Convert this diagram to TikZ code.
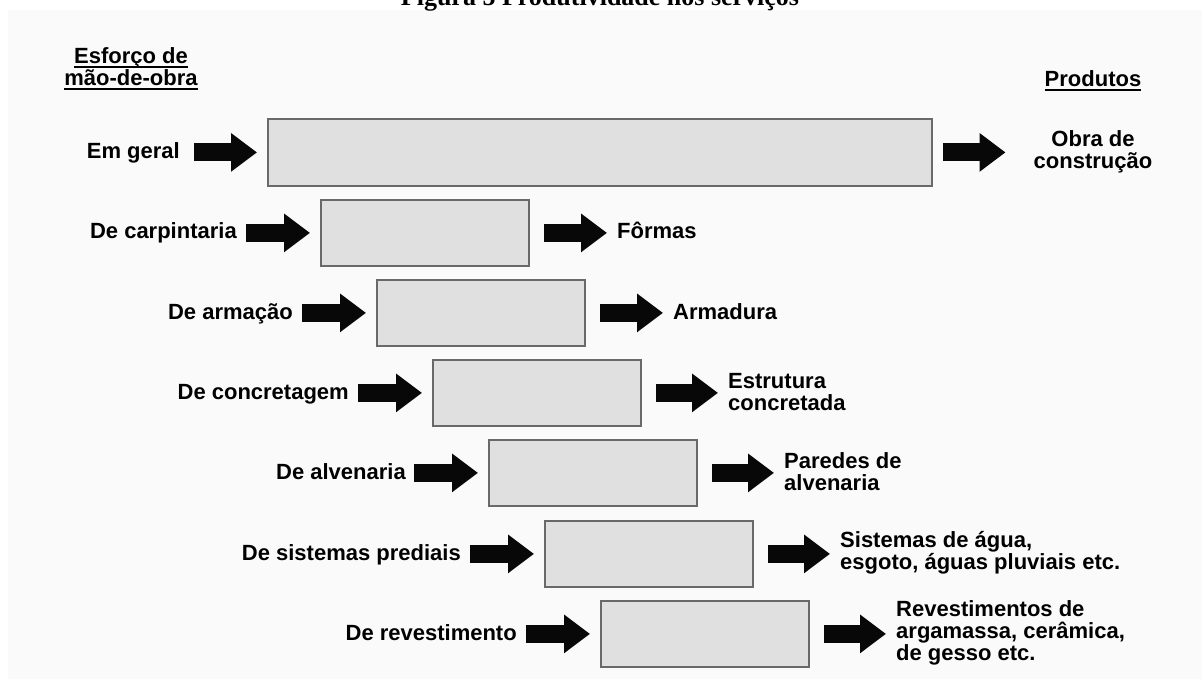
\documentclass[tikz,border=0pt]{standalone}
\usepackage{fontspec}
\setmainfont{Liberation Sans}
\newfontfamily\titlefont{Liberation Serif}
\usetikzlibrary{arrows.meta}
\definecolor{bgcol}{RGB}{250,250,250}
\definecolor{boxfill}{RGB}{224,224,224}
\definecolor{boxline}{RGB}{105,105,105}
\definecolor{arrcol}{RGB}{8,8,8}
\newcommand\hdrul[1]{\setbox0\hbox{#1}\rlap{\rule[-4.5pt]{\wd0}{1.8pt}}\box0}
\begin{document}
\begin{tikzpicture}[x=1pt,y=-1pt,
  stage/.style={draw=boxline, line width=1.8pt, fill=boxfill, inner sep=0pt, anchor=north west, minimum width=208pt, minimum height=66pt},
  bigarrow/.style={draw=arrcol, line width=18pt, -{Triangle[length=26pt,width=37pt]}, shorten <=9pt, shorten >=10pt},
  outarrow/.style={bigarrow, shorten <=14pt, shorten >=10pt},
  lbl/.style={font=\bfseries\fontsize{22}{22}\selectfont, inner sep=0pt, text=black},
  inlbl/.style={lbl, anchor=base east},
  outlbl/.style={lbl, anchor=west, align=left},
  hdr/.style={lbl, align=center}]
\useasboundingbox (0,0) rectangle (1202,679);
\fill[bgcol] (8,10) rectangle (1202,679);
\node[anchor=base, inner sep=0pt, font=\titlefont\bfseries\fontsize{26}{26}\selectfont] (title) at (600,6) {Figura 5 Produtividade nos serviços};

% headers
\node[hdr] (hl) at (131,68.5) {\hdrul{Esforço de}\\\hdrul{mão-de-obra}};
\node[lbl, anchor=base] (hr) at (1093,86.7) {\hdrul{Produtos}};

% boxes
\node[stage, minimum width=664pt, minimum height=67pt] (b1) at (267,118) {};
\node[stage] (b2) at (320,199) {};
\node[stage] (b3) at (376,279) {};
\node[stage] (b4) at (432,359) {};
\node[stage] (b5) at (488,439) {};
\node[stage] (b6) at (544,520) {};
\node[stage] (b7) at (600,600) {};

% input labels
\node[inlbl] (l1) at (180,158.5) {Em geral};
\node[inlbl] (l2) at (237,239) {De carpintaria};
\node[inlbl] (l3) at (293,319) {De armação};
\node[inlbl] (l4) at (349,399) {De concretagem};
\node[inlbl] (l5) at (406,479) {De alvenaria};
\node[inlbl] (l6) at (461,560) {De sistemas prediais};
\node[inlbl] (l7) at (517,640) {De revestimento};

% output labels
\node[lbl, align=center] (r1) at (1093,151.5) {Obra de\\construção};
\node[lbl, anchor=base west] (r2) at (617,239) {Fôrmas};
\node[lbl, anchor=base west] (r3) at (673,319) {Armadura};
\node[outlbl] (r4) at (728,392) {Estrutura\\concretada};
\node[outlbl] (r5) at (784,472) {Paredes de\\alvenaria};
\node[outlbl] (r6) at (840,553) {Sistemas de água,\\esgoto, águas pluviais etc.};
\node[outlbl] (r7) at (896,633) {Revestimentos de\\argamassa, cerâmica,\\de gesso etc.};

% input arrows
\draw[bigarrow, shorten <=14pt] (l1.east |- b1.west) -- (b1.west);
\draw[bigarrow] (l2.east |- b2.west) -- (b2.west);
\draw[bigarrow] (l3.east |- b3.west) -- (b3.west);
\draw[bigarrow] (l4.east |- b4.west) -- (b4.west);
\draw[bigarrow, shorten <=8pt] (l5.east |- b5.west) -- (b5.west);
\draw[bigarrow] (l6.east |- b6.west) -- (b6.west);
\draw[bigarrow] (l7.east |- b7.west) -- (b7.west);

% output arrows
\draw[outarrow, shorten <=10pt, shorten >=28pt] (b1.east) -- (r1.west |- b1.east);
\draw[outarrow] (b2.east) -- (r2.west |- b2.east);
\draw[outarrow] (b3.east) -- (r3.west |- b3.east);
\draw[outarrow] (b4.east) -- (r4.west |- b4.east);
\draw[outarrow] (b5.east) -- (r5.west |- b5.east);
\draw[outarrow] (b6.east) -- (r6.west |- b6.east);
\draw[outarrow] (b7.east) -- (r7.west |- b7.east);
\end{tikzpicture}
\end{document}
